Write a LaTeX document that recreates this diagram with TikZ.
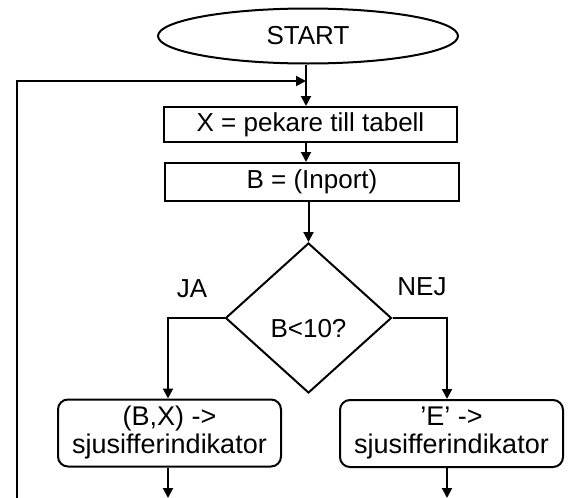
\documentclass[tikz,border=0pt]{standalone}
\usepackage{fontspec}
\setmainfont{Liberation Sans}
\usetikzlibrary{shapes.geometric,arrows.meta}
\begin{document}
\begin{tikzpicture}[x=1pt,y=-1pt,
  every node/.style={font=\fontsize{26}{28}\selectfont, inner sep=0pt},
  ln/.style={line width=2pt},
  arr/.style={ln,-{Triangle[length=10pt,width=10pt]}},
  term/.style={draw,ln,ellipse,minimum width=300pt,minimum height=55pt},
  proc/.style={draw,ln,rectangle},
  rproc/.style={draw,ln,rectangle,rounded corners=10pt,minimum width=223pt,minimum height=67pt,align=center,font=\fontsize{27}{28}\selectfont},
  dec/.style={draw,ln,diamond,aspect=1.1,minimum width=166pt,minimum height=150pt},
  lbl/.style={}]
\useasboundingbox (0,0) rectangle (571,498);
\node[term] (start) at (308,36) {START};
\node[proc,minimum width=293pt,minimum height=35pt] (xbox) at (310.5,124.5) {X = pekare till tabell};
\node[proc,minimum width=294pt,minimum height=38pt] (bbox) at (312,182) {B = (Inport)};
\node[dec] (dia) at (308.5,318) {};
\node at (308.5,329) {B<10?};
\node[lbl] (ja) at (192,289) {JA};
\node[lbl] (nej) at (422,287) {NEJ};
\node[rproc] (lbox) at (169.5,433) {(B,X) ->\\sjusifferindikator};
\node[rproc] (rbox) at (451.5,433.5) {'E' ->\\sjusifferindikator};
\coordinate (join) at (306,81);
\coordinate (fb) at (17,498);
\coordinate (lend) at (168,498);
\coordinate (rend) at (447,498);
% main flow
\draw[ln] (start.south -| join) -- (join);
\draw[arr] (join) -- (xbox.north -| join);
\draw[arr] (xbox.south -| join) -- (bbox.north -| join);
\draw[arr] (bbox.south -| dia.north) -- (dia.north);
% branches
\draw[arr] (dia.west) -| (lend |- lbox.north);
\draw[arr] (dia.east) -| (rend |- rbox.north);
\draw[arr] (lbox.south -| lend) -- (lend);
\draw[arr] (rbox.south -| rend) -- (rend);
% feedback
\draw[arr] (fb) |- (join);
\end{tikzpicture}
\end{document}
